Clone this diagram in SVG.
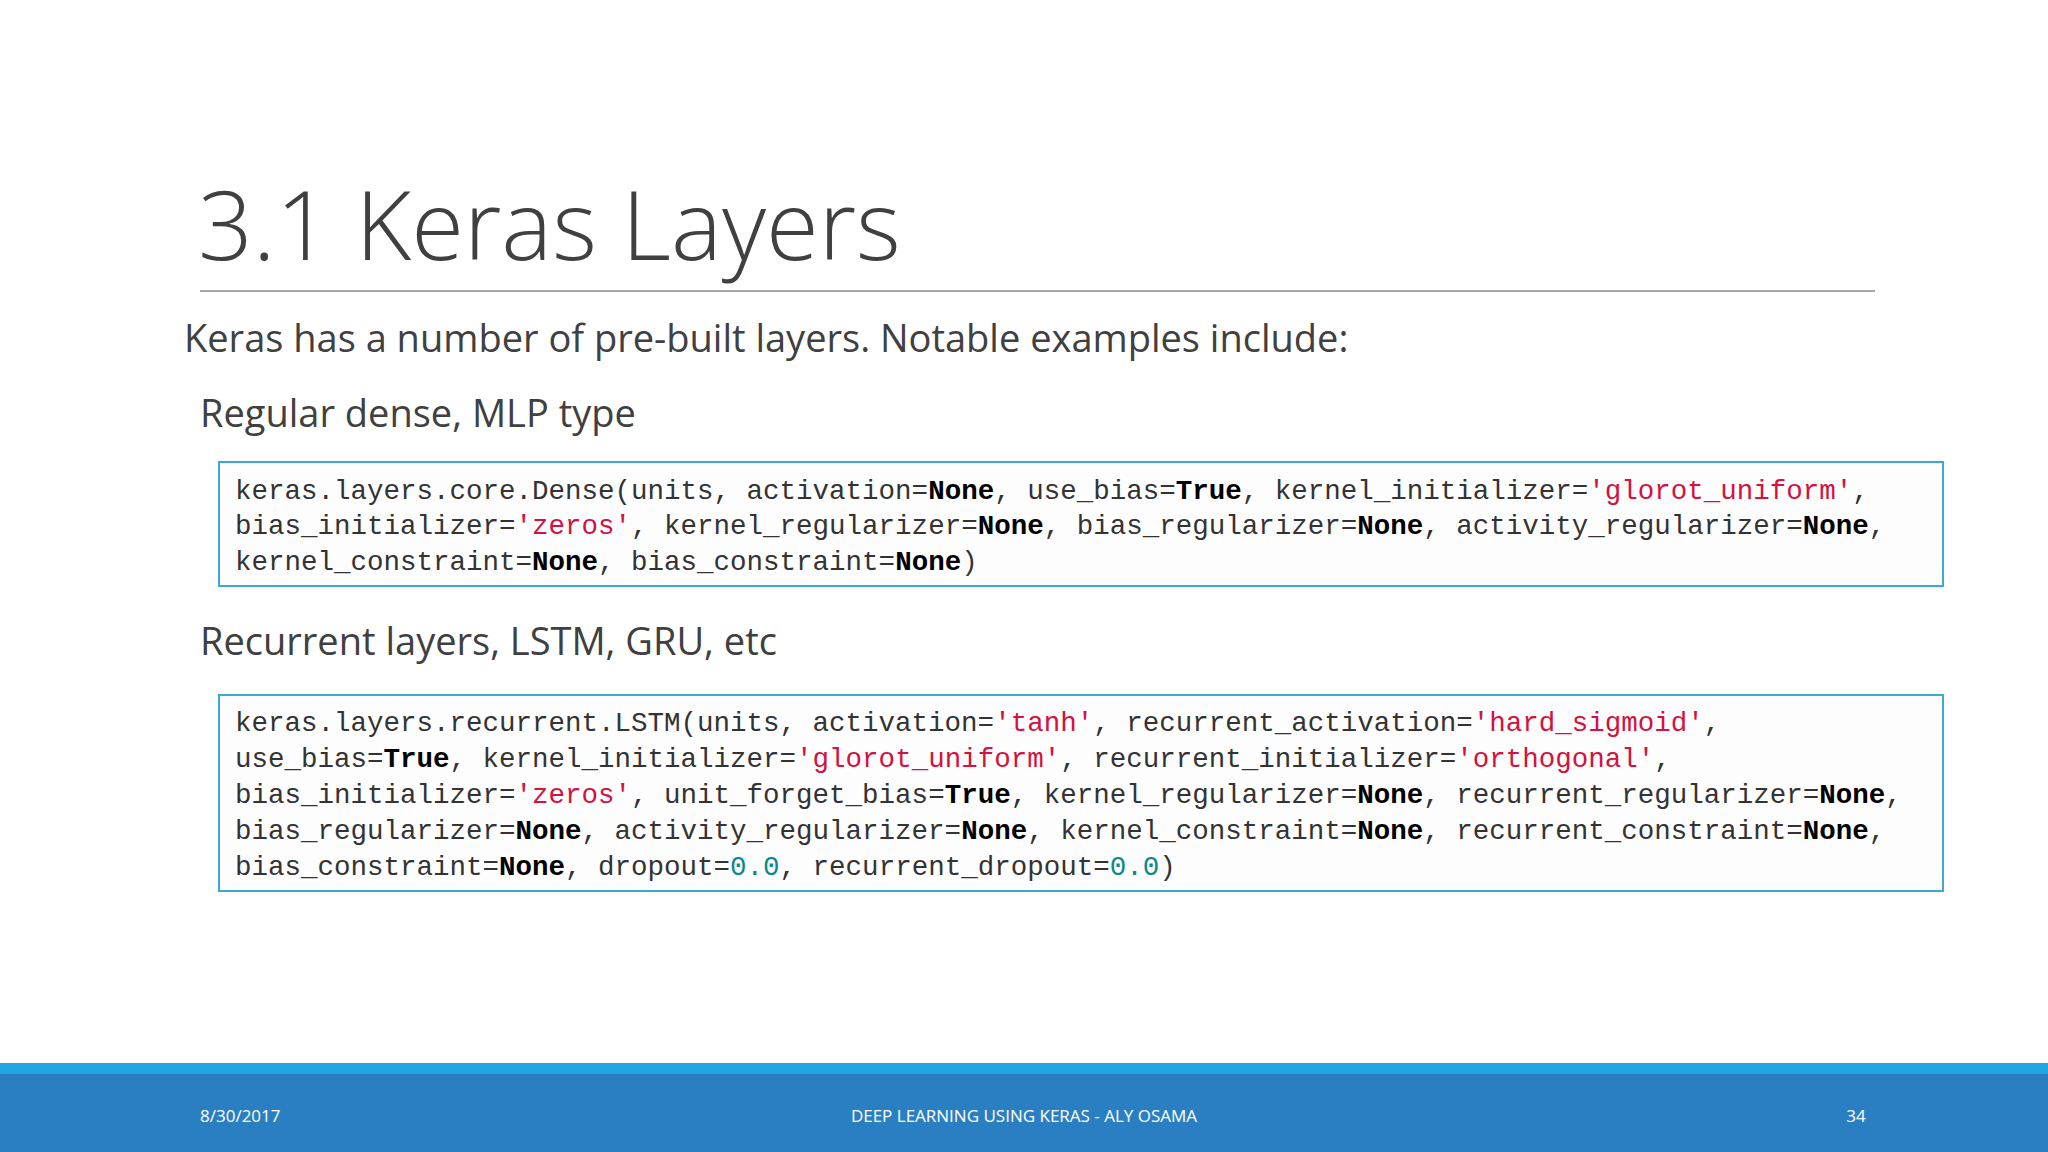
<svg xmlns="http://www.w3.org/2000/svg" width="2048" height="1152" viewBox="0 0 2048 1152">
<style>
.t{font-family:"Open Sans","Liberation Sans",sans-serif;fill:#404040}
.c{font-family:"Liberation Mono",monospace;font-size:27.5px;fill:#333}
.b{font-weight:bold;fill:#000}
.s{fill:#d4113f}
.n{fill:#0b8a8a}
.box{fill:#fdfdfd;stroke:#3aa9d4;stroke-width:2}
.f{font-family:"Open Sans","Liberation Sans",sans-serif;font-size:17px;fill:#fff}
</style>
<rect width="2048" height="1152" fill="#fff"/>
<g id="title">
<text class="t" x="198" y="260" font-size="96" font-weight="300">3.1 Keras Layers</text>
<line x1="200" y1="291" x2="1875" y2="291" stroke="#a6a6a6" stroke-width="2"/>
</g>
<g id="intro"><text class="t" x="184" y="352" font-size="38">Keras has a number of pre-built layers. Notable examples include:</text></g>
<g id="h1"><text class="t" x="200" y="427" font-size="38">Regular dense, MLP type</text></g>
<g id="box1">
<rect class="box" x="219" y="462" width="1724" height="124"/>
<text class="c" x="235" y="499" xml:space="preserve">keras.layers.core.Dense(units, activation=<tspan class="b">None</tspan>, use_bias=<tspan class="b">True</tspan>, kernel_initializer=<tspan class="s">'glorot_uniform'</tspan>,</text>
<text class="c" x="235" y="534" xml:space="preserve">bias_initializer=<tspan class="s">'zeros'</tspan>, kernel_regularizer=<tspan class="b">None</tspan>, bias_regularizer=<tspan class="b">None</tspan>, activity_regularizer=<tspan class="b">None</tspan>,</text>
<text class="c" x="235" y="570" xml:space="preserve">kernel_constraint=<tspan class="b">None</tspan>, bias_constraint=<tspan class="b">None</tspan>)</text>
</g>
<g id="h2"><text class="t" x="200" y="655" font-size="38">Recurrent layers, LSTM, GRU, etc</text></g>
<g id="box2">
<rect class="box" x="219" y="695" width="1724" height="196"/>
<text class="c" x="235" y="731" xml:space="preserve">keras.layers.recurrent.LSTM(units, activation=<tspan class="s">'tanh'</tspan>, recurrent_activation=<tspan class="s">'hard_sigmoid'</tspan>,</text>
<text class="c" x="235" y="767" xml:space="preserve">use_bias=<tspan class="b">True</tspan>, kernel_initializer=<tspan class="s">'glorot_uniform'</tspan>, recurrent_initializer=<tspan class="s">'orthogonal'</tspan>,</text>
<text class="c" x="235" y="803" xml:space="preserve">bias_initializer=<tspan class="s">'zeros'</tspan>, unit_forget_bias=<tspan class="b">True</tspan>, kernel_regularizer=<tspan class="b">None</tspan>, recurrent_regularizer=<tspan class="b">None</tspan>,</text>
<text class="c" x="235" y="839" xml:space="preserve">bias_regularizer=<tspan class="b">None</tspan>, activity_regularizer=<tspan class="b">None</tspan>, kernel_constraint=<tspan class="b">None</tspan>, recurrent_constraint=<tspan class="b">None</tspan>,</text>
<text class="c" x="235" y="875" xml:space="preserve">bias_constraint=<tspan class="b">None</tspan>, dropout=<tspan class="n">0.0</tspan>, recurrent_dropout=<tspan class="n">0.0</tspan>)</text>
</g>
<g id="footer">
<rect x="0" y="1063" width="2048" height="11" fill="#1fa7e1"/>
<rect x="0" y="1074" width="2048" height="78" fill="#2a7fc3"/>
<text class="f" x="200" y="1122">8/30/2017</text>
<text class="f" x="1024" y="1122" text-anchor="middle">DEEP LEARNING USING KERAS - ALY OSAMA</text>
<text class="f" x="1856" y="1122" text-anchor="middle">34</text>
</g>
</svg>
